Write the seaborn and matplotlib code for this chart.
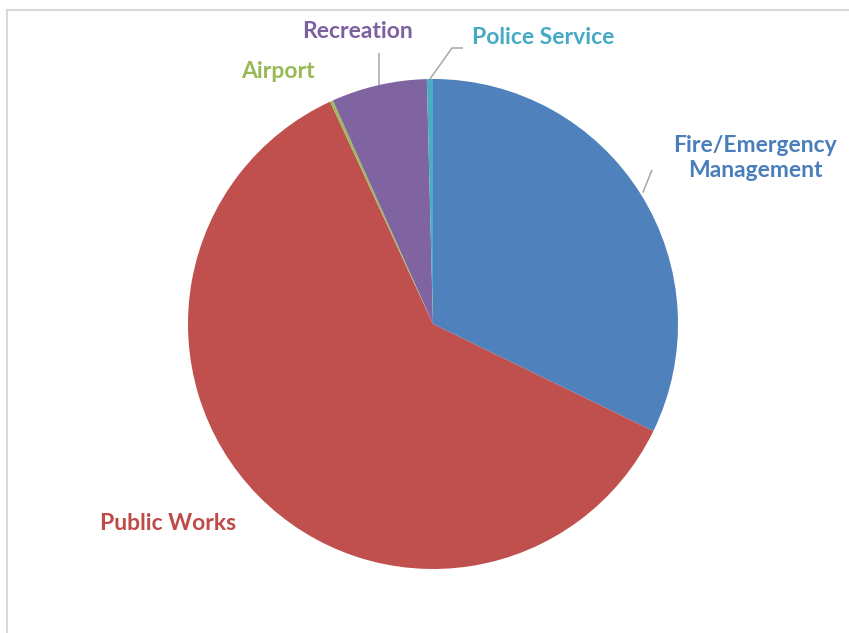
import numpy as np
import matplotlib
matplotlib.use("Agg")
import matplotlib.pyplot as plt
import seaborn as sns

# Departments, clockwise from 12 o'clock, with their share of the total (%)
departments = ["Fire/Emergency\nManagement", "Public Works", "Airport", "Recreation", "Police Service"]
shares = [32.2, 60.9, 0.2, 6.3, 0.4]
slice_colors = ["#4F81BD", "#C0504D", "#9BBB59", "#8064A2", "#4BACC6"]
label_colors = ["#4A7EBB", "#BE4B48", "#98B954", "#7D60A0", "#46AAC5"]

sns.set_theme(style="white")
plt.rcParams["font.family"] = ["Lato", "DejaVu Sans"]

W, H = 849, 633
fig = plt.figure(figsize=(W / 100, H / 100), dpi=100)
fig.patch.set_facecolor("white")

# pie geometry in pixels
cx, cy, R = 433, 324, 245
ax = fig.add_axes([(cx - R) / W, (H - cy - R) / H, 2 * R / W, 2 * R / H])

wedges, _ = ax.pie(shares, colors=slice_colors, startangle=90, counterclock=False,
                   radius=1.0, wedgeprops=dict(linewidth=0))
ax.set_xlim(-1, 1)
ax.set_ylim(-1, 1)
ax.axis("off")


def px(x, y):
    """pixel position -> data coordinates of the pie axes"""
    return (x - cx) / R, (cy - y) / R


def mid_point(w, r=1.0):
    a = np.deg2rad((w.theta1 + w.theta2) / 2)
    return r * np.cos(a), r * np.sin(a)


# label placement (pixels, centre of text)
label_pos = {
    0: (755, 158),
    1: (168, 524),
    2: (278, 72),
    3: (358, 31),
    4: (543, 37),
}
for i, (x, y) in label_pos.items():
    ax.text(*px(x, y), departments[i], color=label_colors[i], fontsize=16.5,
            fontweight="bold", ha="center", va="center", linespacing=1.2,
            clip_on=False)

# leader lines
line_kw = dict(color="#A6A6A6", lw=1.1, clip_on=False, solid_capstyle="butt")
x0, y0 = mid_point(wedges[3])
ax.plot([x0, x0], [y0, px(0, 53)[1]], **line_kw)
x0, y0 = mid_point(wedges[4])
xa, ya = px(452, 48)
xb, yb = px(463, 48)
ax.plot([x0, xa, xb], [y0, ya, yb], **line_kw)
x0, y0 = mid_point(wedges[0], 1.01)
xa, ya = px(652, 170)
ax.plot([x0, xa], [y0, ya], **line_kw)

# chart-area border (top and left edges visible)
fig.add_artist(plt.Line2D([7 / W, 1], [1 - 10 / H, 1 - 10 / H], color="#D9D9D9", lw=1.5))
fig.add_artist(plt.Line2D([7 / W, 7 / W], [0, 1 - 10 / H], color="#D9D9D9", lw=1.5))

fig.savefig("out.png", dpi=100, facecolor="white")
